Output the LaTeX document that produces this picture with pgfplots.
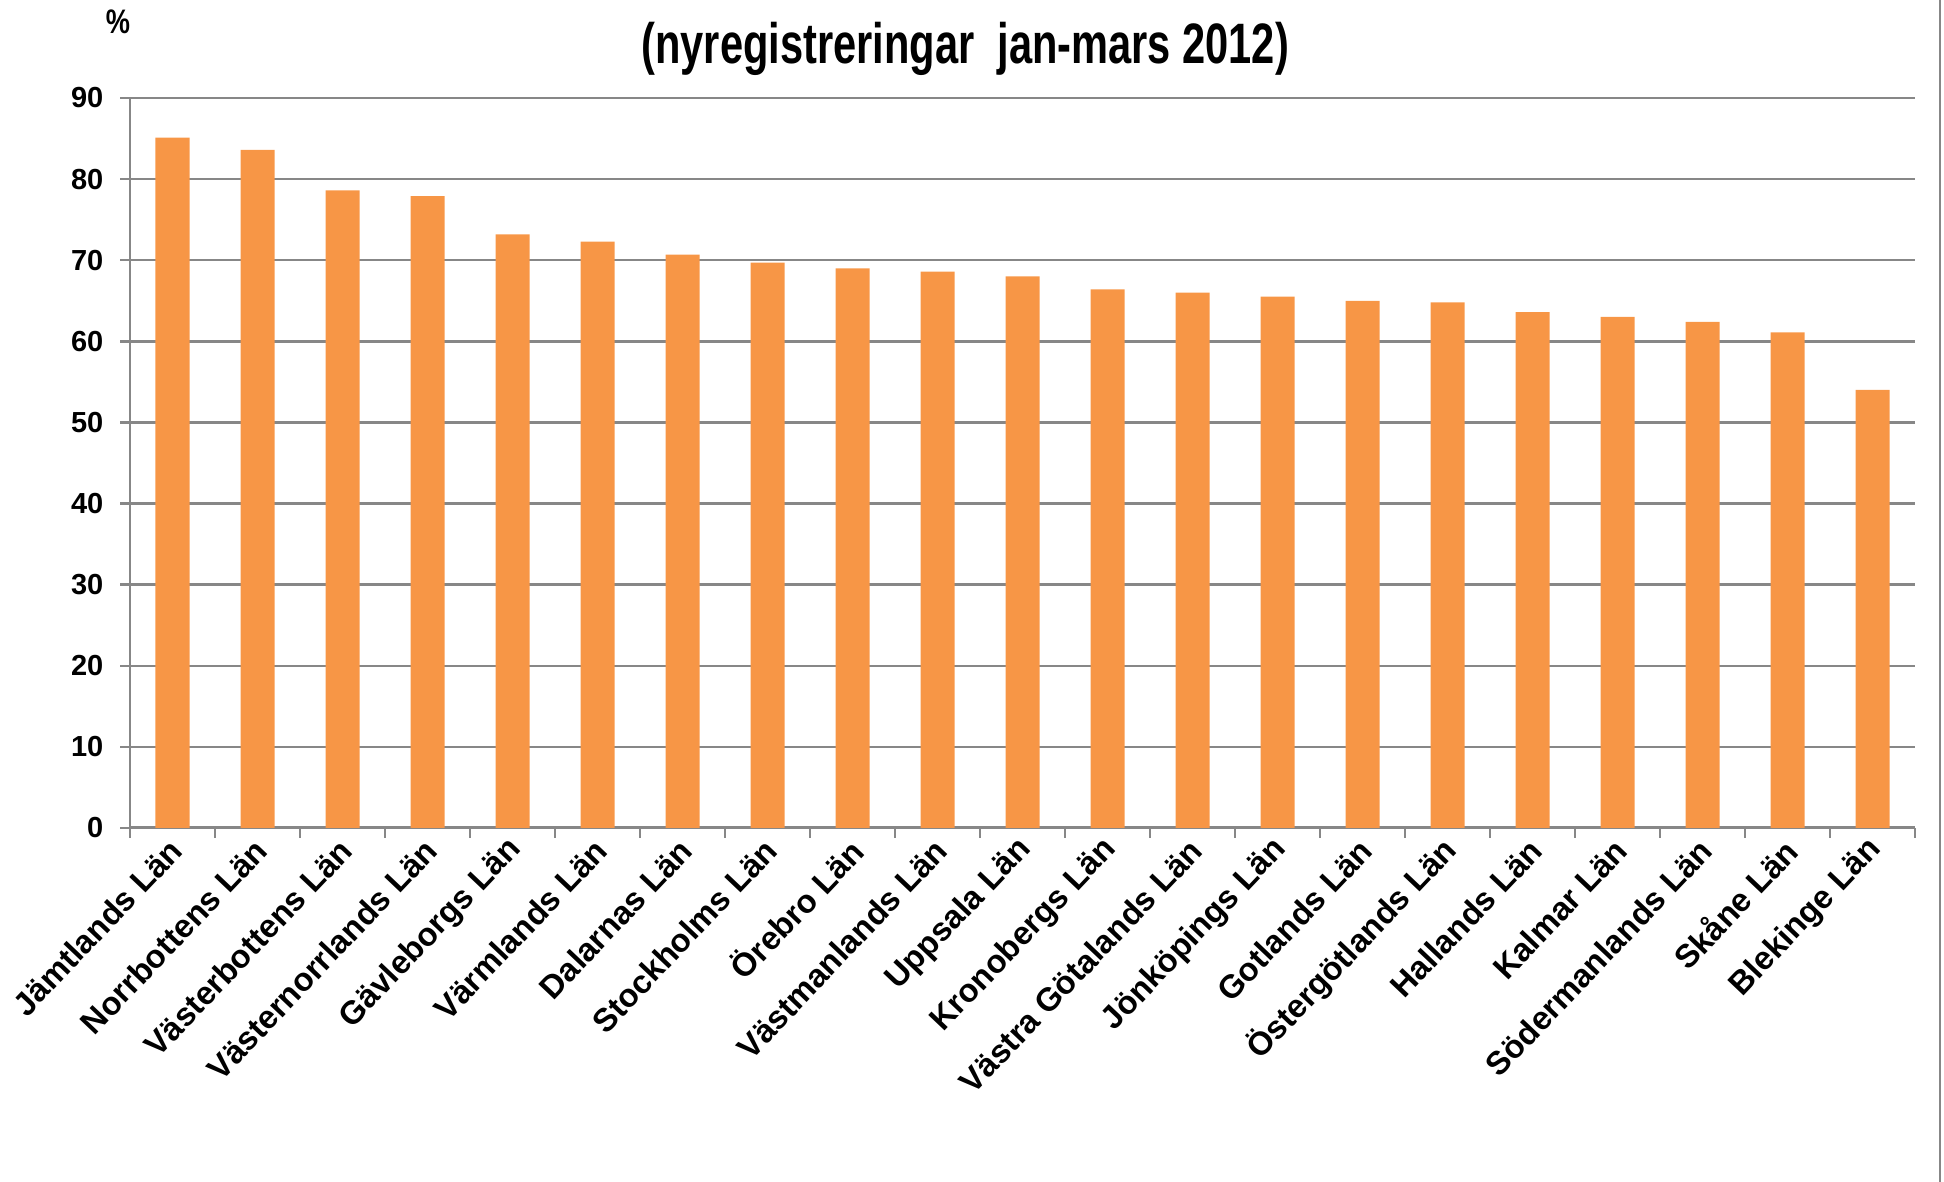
\documentclass[border=0pt]{standalone}
\usepackage{pgfplots}
\pgfplotsset{compat=1.18}
\usepackage{fontspec}
\setmainfont{Liberation Sans}
\definecolor{barorange}{HTML}{F79646}
\definecolor{gridgray}{HTML}{878787}
\begin{document}
\begin{tikzpicture}
\useasboundingbox (0,0) rectangle (972pt,591pt);
\begin{axis}[
  at={(65pt,177pt)}, anchor=south west,
  scale only axis, width=892.5pt, height=365pt,
  ymin=0, ymax=90, ytick={0,10,...,90},
  xmin=-0.5, xmax=20.5,
  xtick={0,...,20},
  xticklabels={Jämtlands Län, Norrbottens Län, Västerbottens Län, Västernorrlands Län, Gävleborgs Län, Värmlands Län, Dalarnas Län, Stockholms Län, Örebro Län, Västmanlands Län, Uppsala Län, Kronobergs Län, Västra Götalands Län, Jönköpings Län, Gotlands Län, Östergötlands Län, Hallands Län, Kalmar Län, Södermanlands Län, Skåne Län, Blekinge Län},
  minor xtick={-0.5,0.5,...,20.5},
  axis x line*=bottom, axis y line*=left,
  xtick pos=bottom, ytick pos=left,
  tick align=outside,
  major tick length=5pt, minor tick length=5pt,
  major x tick style={draw=none},
  minor x tick style={gridgray, line width=0.8pt},
  major y tick style={gridgray, line width=1.2pt},
  ymajorgrids,
  major grid style={gridgray, line width=1.2pt},
  x axis line style={gridgray, line width=1.5pt},
  y axis line style={gridgray, line width=0.7pt},
  /pgf/number format/assume math mode=true,
  yticklabel style={font=\bfseries\fontsize{14.5}{14.5}\selectfont, text=black, xshift=-4.8pt},
  xticklabel style={rotate=46.5, anchor=east, font=\bfseries\fontsize{16.3}{16.3}\selectfont, text=black, inner sep=2pt, xshift=1pt, yshift=-3.5pt},
]
\addplot[ybar, bar width=0.4, fill=barorange, draw=none] coordinates {
(0,85.1) (1,83.6) (2,78.6) (3,77.9) (4,73.2) (5,72.3) (6,70.7) (7,69.7) (8,69.0) (9,68.6) (10,68.0) (11,66.4) (12,66.0) (13,65.5) (14,65.0) (15,64.8) (16,63.6) (17,63.0) (18,62.4) (19,61.1) (20,54.0)
};
\end{axis}
\node at (482.6pt,566.5pt) {\scalebox{0.73}[1]{\bfseries\fontsize{28.5}{28.5}\selectfont (nyregistreringar\ \ jan-mars\ 2012)}};
\node at (59pt,580pt) {\scalebox{0.8}[1]{\bfseries\fontsize{17}{17}\selectfont \%}};
\draw[gridgray, line width=0.6pt] (970pt,0) -- (970pt,591pt);
\end{tikzpicture}
\end{document}
